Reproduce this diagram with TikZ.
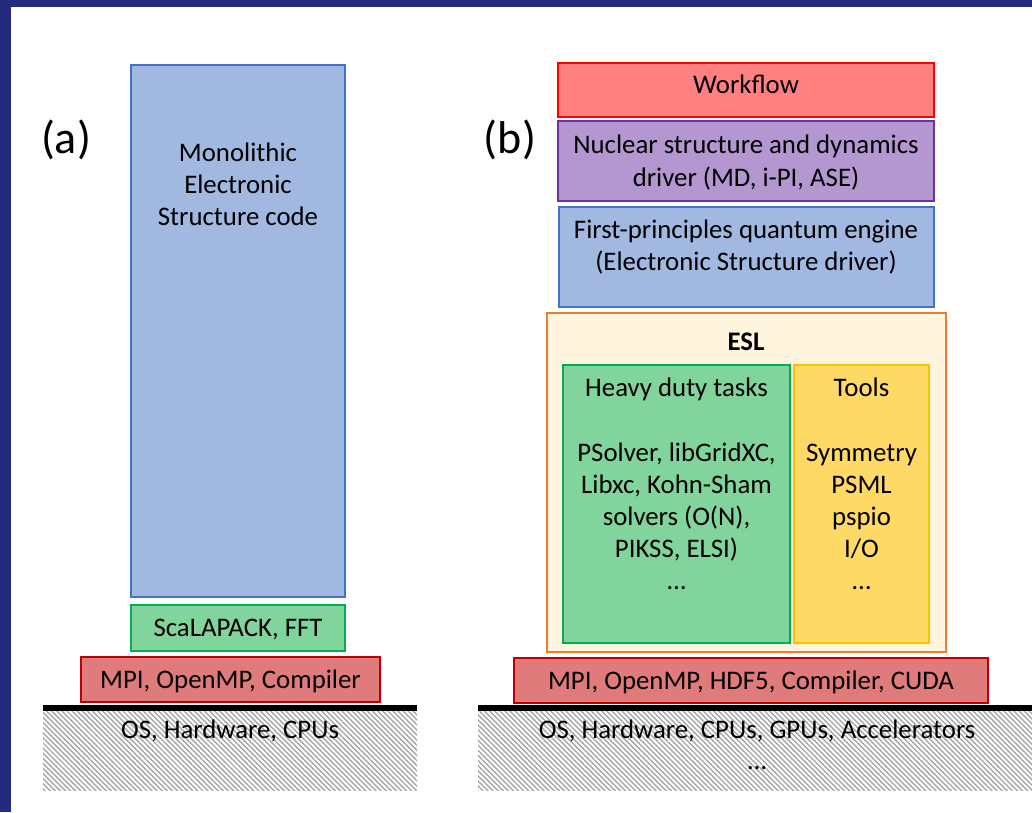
\documentclass[tikz,border=0pt]{standalone}
\usepackage{fontspec}
\setmainfont{Carlito}
\usetikzlibrary{patterns.meta}
\definecolor{navy}{RGB}{36,42,125}
\definecolor{bluefill}{HTML}{A1B8E1}
\definecolor{blueline}{HTML}{4472C4}
\definecolor{greenfill}{HTML}{80D49C}
\definecolor{greenline}{HTML}{00B050}
\definecolor{redfill}{HTML}{E07B7B}
\definecolor{redline}{HTML}{C00000}
\definecolor{wffill}{HTML}{FF8080}
\definecolor{wfline}{HTML}{FF0000}
\definecolor{purfill}{HTML}{B496D0}
\definecolor{purline}{HTML}{7030A0}
\definecolor{eslfill}{HTML}{FFF5DF}
\definecolor{eslline}{HTML}{ED7D31}
\definecolor{toolfill}{HTML}{FFD966}
\definecolor{toolline}{HTML}{FFC000}
\definecolor{hatch}{HTML}{A6A6A6}
\begin{document}
\begin{tikzpicture}[x=1pt,y=-1pt,
  box/.style={draw, line width=2.5pt, inner sep=0pt, rectangle},
  lbl/.style={inner sep=0pt, anchor=base, font=\fontsize{26.8}{32}\selectfont},
  big/.style={inner sep=0pt, anchor=center, font=\fontsize{46}{54}\selectfont},
  hw/.style={pattern={Lines[angle=-45,distance=3.6pt,line width=1.4pt]}, pattern color=hatch}
]
\useasboundingbox (0,0) rectangle (1032,812);
\fill[white] (0,0) rectangle (1032,812);
\fill[navy] (0,0) rectangle (1032,7);
\fill[navy] (0,0) rectangle (11,812);

% ---------- (a) ----------
\node[big] (la) at (66,140) {(a)};
\node[box, fill=bluefill, draw=blueline, minimum width=214, minimum height=532] (mono) at (238,331) {};
\node[lbl] (mono1) at (238,161.5) {Monolithic};
\node[lbl] (mono2) at (238,193.5) {Electronic};
\node[lbl] (mono3) at (238,225.5) {Structure code};
\node[box, fill=greenfill, draw=greenline, minimum width=214, minimum height=46] (scal) at (238,628) {};
\node[lbl] (scalt) at (238,636.5) {ScaLAPACK, FFT};
\node[box, fill=redfill, draw=redline, minimum width=299, minimum height=45] (mpia) at (230.5,679.5) {};
\node[lbl] (mpiat) at (230.5,688) {MPI, OpenMP, Compiler};
\fill[hw] (43,711) rectangle (417,790);
\coordinate (hwaL) at (43,708);
\coordinate (hwaR) at (417,708);
\draw[line width=6pt] (hwaL) -- (hwaR);
\node[lbl] (hwat) at (230,738.5) {OS, Hardware, CPUs};

% ---------- (b) ----------
\node[big] (lb) at (510,140) {(b)};
\node[box, fill=wffill, draw=wfline, minimum width=376, minimum height=54] (wf) at (746,90) {};
\node[lbl] (wft) at (746,93.5) {Workflow};
\node[box, fill=purfill, draw=purline, minimum width=376, minimum height=80] (nuc) at (746,161) {};
\node[lbl] (nuc1) at (746,153.5) {Nuclear structure and dynamics};
\node[lbl] (nuc2) at (746,186.5) {driver (MD, i-PI, ASE)};
\node[box, fill=bluefill, draw=blueline, minimum width=375, minimum height=100] (fp) at (746.5,257) {};
\node[lbl] (fp1) at (746,238.5) {First-principles quantum engine};
\node[lbl] (fp2) at (746,270.5) {(Electronic Structure driver)};
\node[box, fill=eslfill, draw=eslline, minimum width=399, minimum height=339] (esl) at (746.5,482.5) {};
\node[lbl, font=\fontsize{26.8}{32}\selectfont\bfseries] (eslt) at (746,350.5) {ESL};
\node[box, fill=greenfill, draw=greenline, minimum width=227, minimum height=278] (heavy) at (676.5,504) {};
\node[box, fill=toolfill, draw=toolline, minimum width=135, minimum height=278] (tools) at (861.5,504) {};
\node[lbl] (hv0) at (676.5,396.5) {Heavy duty tasks};
\node[lbl] (hv1) at (676.5,461.5) {PSolver, libGridXC,};
\node[lbl] (hv2) at (676.5,493.5) {Libxc, Kohn-Sham};
\node[lbl] (hv3) at (676.5,525.5) {solvers (O(N),};
\node[lbl] (hv4) at (676.5,557.5) {PIKSS, ELSI)};
\node[lbl] (hv5) at (676.5,589.5) {…};
\node[lbl] (tl0) at (861.5,396.5) {Tools};
\node[lbl] (tl1) at (861.5,461.5) {Symmetry};
\node[lbl] (tl2) at (861.5,493.5) {PSML};
\node[lbl] (tl3) at (861.5,525.5) {pspio};
\node[lbl] (tl4) at (861.5,557.5) {I/O};
\node[lbl] (tl5) at (861.5,589.5) {…};
\node[box, fill=redfill, draw=redline, minimum width=474, minimum height=45] (mpib) at (751,680.5) {};
\node[lbl] (mpibt) at (751,689) {MPI, OpenMP, HDF5, Compiler, CUDA};
\fill[hw] (478,711) rectangle (1032,790);
\coordinate (hwbL) at (478,708);
\coordinate (hwbR) at (1032,708);
\draw[line width=6pt] (hwbL) -- (hwbR);
\node[lbl] (hwbt1) at (757,738.5) {OS, Hardware, CPUs, GPUs, Accelerators};
\node[lbl] (hwbt2) at (757,769) {…};
\end{tikzpicture}
\end{document}
